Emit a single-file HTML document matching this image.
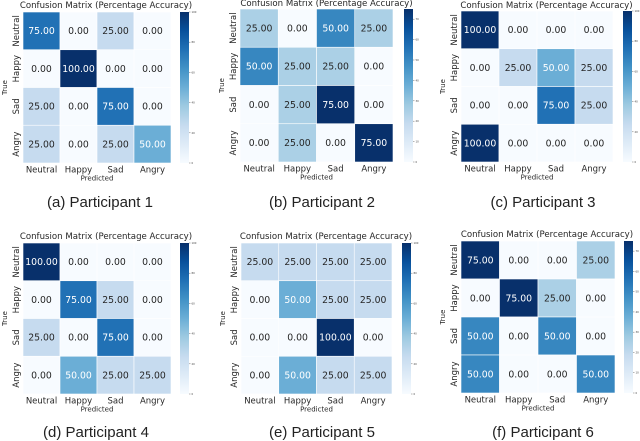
<!DOCTYPE html>
<html><head><meta charset="utf-8"><style>
body{margin:0;background:#fff;}
svg{display:block;font-family:"DejaVu Sans","Liberation Sans",sans-serif;}
.cap{font-family:"Liberation Sans",sans-serif;font-size:15px;fill:#222;}
</style></head><body>
<svg id="fig" width="640" height="441" viewBox="0 0 640 441"></svg>
<script>
const classes = ["Neutral","Happy","Sad","Angry"];
const p1 = [[75,0,25,0],[0,100,0,0],[25,0,75,0],[25,0,25,50]];
const p2 = [[25,0,50,25],[50,25,25,0],[0,25,75,0],[0,25,0,75]];
const p3 = [[100,0,0,0],[0,25,50,25],[0,0,75,25],[100,0,0,0]];
const p4 = [[100,0,0,0],[0,75,25,0],[25,0,75,0],[0,50,25,25]];
const p5 = [[25,25,25,25],[0,50,25,25],[0,0,100,0],[0,50,25,25]];
const p6 = [[75,0,0,25],[0,75,25,0],[50,0,50,0],[50,0,0,50]];
const captions = ["(a) Participant 1","(b) Participant 2","(c) Participant 3","(d) Participant 4","(e) Participant 5","(f) Participant 6"];
const matrices = [p1,p2,p3,p4,p5,p6];
const layout = [
 {x0:23,x1:171,y0:12,y1:163,cb:180,capx:100,capy:207,ty:8},
 {x0:240,x1:393,y0:9,y1:162,cb:404,capx:322,capy:207,ty:6},
 {x0:461,x1:613,y0:11,y1:162,cb:623,capx:543,capy:207,ty:8},
 {x0:23,x1:171,y0:243,y1:394,cb:180,capx:96,capy:437,ty:239},
 {x0:241,x1:392,y0:243,y1:394,cb:402,capx:322,capy:437,ty:239},
 {x0:461,x1:615,y0:241,y1:393,cb:624,capx:543,capy:437,ty:237}
];
const stops=["#f7fbff","#deebf7","#c6dbef","#9ecae1","#6baed6","#4292c6","#2171b5","#08519c","#08306b"];
function hex(c){return [1,3,5].map(i=>parseInt(c.substr(i,2),16));}
function blues(t){t=Math.max(0,Math.min(1,t));const f=t*8,i=Math.min(7,Math.floor(f)),r=f-i;
 const a=hex(stops[i]),b=hex(stops[i+1]);return "rgb("+a.map((v,k)=>Math.round(v+(b[k]-v)*r)).join(",")+")";}
const NS="http://www.w3.org/2000/svg";
const svg=document.getElementById("fig");
function el(tag,attrs,parent,text){const e=document.createElementNS(NS,tag);for(const k in attrs)e.setAttribute(k,attrs[k]);if(text!==undefined)e.textContent=text;(parent||svg).appendChild(e);return e;}
const defs=el("defs",{});
matrices.forEach((m,pi)=>{
 const L=layout[pi];
 const g=el("g",{});
 
 
 const vmax=Math.max(...m.flat()), vmin=Math.min(...m.flat());
 const cw=(L.x1-L.x0)/4, ch=(L.y1-L.y0)/4;
 const xs=j=>L.x0+j*cw, ys=i=>L.y0+i*ch;
 m.forEach((row,i)=>row.forEach((v,j)=>{
  const t=(v-vmin)/(vmax-vmin);
  const r=el("rect",{x:xs(j),y:ys(i),width:cw,height:ch,fill:blues(t),stroke:"#fff","stroke-width":0.6},g);
  
  
  const tx=el("text",{x:xs(j)+cw/2,y:ys(i)+ch/2+3.3,"text-anchor":"middle","font-size":"9.3",fill:t>=0.5?"#fff":"#262626"},g,v.toFixed(2));
  
  
 }));
 classes.forEach((c,j)=>{
  const t=el("text",{x:xs(j)+cw/2,y:L.y1+9.5,"text-anchor":"middle","font-size":"8.5",fill:"#262626"},g,c);
  
  
  const cy=ys(j)+ch/2;
  const t2=el("text",{x:L.x0-4,y:cy,"text-anchor":"middle","font-size":"8.5",fill:"#262626",transform:"rotate(-90 "+(L.x0-4)+" "+cy+")"},g,c);
  
  
 });
 const xt=el("text",{x:(L.x0+L.x1)/2,y:L.y1+17.5,"text-anchor":"middle","font-size":"7",fill:"#262626"},g,"Predicted");
 
 
 const my=(L.y0+L.y1)/2, tx0=L.x0-16;
 const yt=el("text",{x:tx0,y:my,"text-anchor":"middle","font-size":"7",fill:"#262626",transform:"rotate(-90 "+tx0+" "+my+")"},g,"True");
 
 
 const ti=el("text",{x:(L.x0+L.cb+9)/2,y:L.ty,"text-anchor":"middle","font-size":"8.6",fill:"#262626"},g,"Confusion Matrix (Percentage Accuracy)");
 
 
 const gid="cbg"+pi;
 const lg=el("linearGradient",{id:gid,x1:0,y1:1,x2:0,y2:0},defs);
 stops.forEach((s,k)=>el("stop",{offset:k/8,"stop-color":s},lg));
 const cb=el("rect",{x:L.cb,y:L.y0,width:9,height:L.y1-L.y0,fill:"url(#"+gid+")"},g);
 
 
 const step=vmax>80?20:10;
 for(let v=vmin;v<=vmax+0.01;v+=step){
  const yy=L.y1-(v-vmin)/(vmax-vmin)*(L.y1-L.y0);
  el("line",{x1:L.cb+9,x2:L.cb+10.5,y1:yy,y2:yy,stroke:"#444","stroke-width":0.4},g);
  const tl=el("text",{x:L.cb+11.5,y:yy+1,"font-size":"2.6",fill:"#444"},g,String(v));
  
  
 }
 const cp=el("text",{x:L.capx,y:L.capy,"text-anchor":"middle",class:"cap"},svg,captions[pi]);
 
 
});
</script>
</body></html>
